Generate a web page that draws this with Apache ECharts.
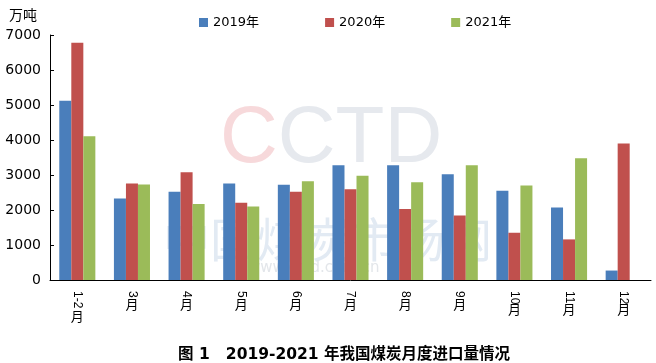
<!DOCTYPE html>
<html>
<head>
<meta charset="utf-8">
<script src="https://cdn.jsdelivr.net/npm/echarts@6/dist/echarts.min.js"></script>
<style>
html,body{margin:0;padding:0;background:#fff;}
#c{width:656px;height:363px;}
</style>
</head>
<body>
<div id="c"></div>
<script>
var categories = ['1-2月','3月','4月','5月','6月','7月','8月','9月','10月','11月','12月'];
var seriesNames = ['2019年','2020年','2021年'];
var y2019 = [5120, 2330, 2520, 2760, 2720, 3280, 3280, 3020, 2550, 2070, 270];
var y2020 = [6780, 2760, 3080, 2210, 2520, 2590, 2030, 1840, 1350, 1160, 3900];
var y2021 = [4110, 2730, 2170, 2100, 2820, 2980, 2790, 3280, 2700, 3480, null];
var yTicks = [0, 1000, 2000, 3000, 4000, 5000, 6000, 7000];
var unitLabel = '万吨';
var caption = '图 1   2019-2021 年我国煤炭月度进口量情况';

var FONT = '"DejaVu Sans", "Noto Sans CJK SC", sans-serif';
var NUMFONT = '"Liberation Sans", "Noto Sans CJK SC", sans-serif';
var colors = ['#4A7EBB', '#C0504D', '#9BBB59'];

var chart = echarts.init(document.getElementById('c'), null, {renderer: 'canvas'});
chart.setOption({
  animation: false,
  backgroundColor: '#fff',
  color: colors,
  textStyle: {fontFamily: FONT},
  title: [
    {text: unitLabel, left: 4, top: 4, textStyle: {fontSize: 14, fontWeight: 'normal', color: '#000', fontFamily: FONT}},
    {text: caption, left: 173, top: 342, textStyle: {fontSize: 15.5, fontWeight: 'bold', color: '#000', fontFamily: FONT}}
  ],
  graphic: [
    {type: 'text', z: -1, left: 220, top: 100, style: {
      text: '{p|C}{g|CTD}', fontSize: 80, fontFamily: '"Liberation Sans", sans-serif',
      rich: {
        p: {fontSize: 80, fill: '#f7d9db', fontFamily: '"Liberation Sans", sans-serif'},
        g: {fontSize: 80, fill: '#e6e9ee', fontFamily: '"Liberation Sans", sans-serif'}
      }
    }},
    {type: 'text', z: -1, left: 163, top: 216, style: {text: '中国煤炭市场网', fontSize: 47, fill: '#e2eaf3', fontFamily: '"Noto Sans CJK SC", sans-serif'}},
    {type: 'text', z: -1, left: 248, top: 261, style: {text: 'www.cctd.com.cn', fontSize: 15, fill: '#e3e6ea', fontFamily: FONT}}
  ],
  legend: {
    data: seriesNames,
    left: 194, top: 11,
    icon: 'rect', itemWidth: 9, itemHeight: 9, itemGap: 66,
    textStyle: {fontSize: 13, color: '#000', fontFamily: FONT}
  },
  grid: {left: 50, right: 5, top: 35, bottom: 83, containLabel: false},
  xAxis: [
    {
      type: 'category', data: categories, position: 'bottom',
      axisLine: {lineStyle: {color: '#000', width: 1}},
      axisTick: {inside: true, length: 4, lineStyle: {color: '#000'}},
      axisLabel: {
        interval: 0, rotate: -90, margin: 11, fontSize: 12, color: '#000', fontFamily: NUMFONT,
        formatter: function (v) { return v.replace('月', ''); }
      },
      splitLine: {show: false}
    },
    {
      type: 'category', data: categories, position: 'bottom', offset: 0,
      axisLine: {show: false}, axisTick: {show: false}, splitLine: {show: false},
      axisLabel: {
        interval: 0, margin: 19, color: '#000', fontFamily: FONT,
        formatter: function (v) {
          var d = v.replace('月', '');
          if (d.length === 1) return '{a|月}';
          if (d.length === 2) return '{b|月}';
          return '{c|月}';
        },
        rich: {
          a: {fontSize: 13, fontFamily: FONT, color: '#000'},
          b: {fontSize: 13, fontFamily: FONT, color: '#000', padding: [5, 0, 0, 0]},
          c: {fontSize: 13, fontFamily: FONT, color: '#000', padding: [12, 0, 0, 0]}
        }
      }
    }
  ],
  yAxis: {
    type: 'value', min: yTicks[0], max: yTicks[yTicks.length - 1], interval: 1000,
    axisLine: {show: true, lineStyle: {color: '#000', width: 1}},
    axisTick: {show: true, inside: true, length: 4, lineStyle: {color: '#000'}},
    axisLabel: {fontSize: 14, color: '#000', margin: 9, fontFamily: FONT,
      formatter: function (v) { return String(v); }},
    splitLine: {show: false}
  },
  series: [
    {name: seriesNames[0], type: 'bar', xAxisIndex: 0, data: y2019, barGap: '0%', barCategoryGap: '34%'},
    {name: seriesNames[1], type: 'bar', xAxisIndex: 0, data: y2020, barGap: '0%', barCategoryGap: '34%'},
    {name: seriesNames[2], type: 'bar', xAxisIndex: 0, data: y2021, barGap: '0%', barCategoryGap: '34%'}
  ]
});
</script>
</body>
</html>
